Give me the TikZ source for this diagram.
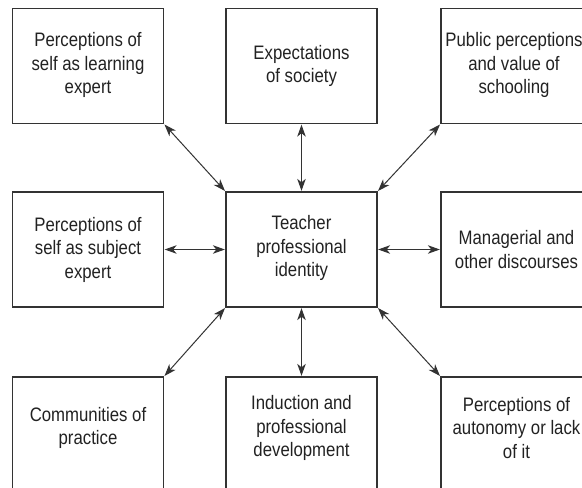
\documentclass[tikz,border=0pt]{standalone}
\usepackage{fontspec}
\setmainfont{Liberation Sans}[FakeStretch=0.86]
\usetikzlibrary{arrows.meta}
\definecolor{boxline}{HTML}{333333}
\definecolor{txtcol}{HTML}{222222}
\tikzset{
  box/.style={draw=boxline, line width=1.3pt, minimum width=151pt, minimum height=115pt, inner sep=0pt},
  txt/.style={align=center, text=txtcol, font=\fontsize{19.5pt}{23.5pt}\selectfont, inner sep=0pt},
  conn/.style={draw=boxline, line width=1pt, {Stealth[length=12pt,width=8.5pt,inset=3.5pt]}-{Stealth[length=12pt,width=8.5pt,inset=3.5pt]}, shorten <=0.5pt, shorten >=0.5pt}
}
\begin{document}
\begin{tikzpicture}[x=1pt,y=-1pt]
\useasboundingbox (0,0) rectangle (582,488);
\clip (0,0) rectangle (582,488);
\fill[white] (0,0) rectangle (582,488);
% boxes
\node[box] (tl) at (88,66) {};
\node[box] (tm) at (301.5,66) {};
\node[box] (tr) at (516.5,66) {};
\node[box] (ml) at (88,249.5) {};
\node[box] (c) at (301.5,249.5) {};
\node[box] (mr) at (516.5,249.5) {};
\node[box] (bl) at (88,434.5) {};
\node[box] (bm) at (301.5,434.5) {};
\node[box] (br) at (516.5,434.5) {};
% texts
\node[txt] (tlt) at (88,65) {Perceptions of\\self as learning\\expert};
\node[txt] (tmt) at (301.5,66) {Expectations\\of society};
\node[txt] (trt) at (514,65) {Public perceptions\\and value of\\schooling};
\node[txt] (mlt) at (88,249.5) {Perceptions of\\self as subject\\expert};
\node[txt] (ct) at (301.5,248) {Teacher\\professional\\identity};
\node[txt] (mrt) at (516.5,249.5) {Managerial and\\other discourses};
\node[txt] (blt) at (88,428) {Communities of\\practice};
\node[txt] (bmt) at (301.5,428) {Induction and\\professional\\development};
\node[txt] (brt) at (516.5,428) {Perceptions of\\autonomy or lack\\of it};
% connectors
\draw[conn] (tl.south east) -- (c.north west);
\draw[conn] (tm.south) -- (c.north);
\draw[conn] (tr.south west) -- (c.north east);
\draw[conn] (ml.east) -- (c.west);
\draw[conn] (mr.west) -- (c.east);
\draw[conn] (bl.north east) -- (c.south west);
\draw[conn] (bm.north) -- (c.south);
\draw[conn] (br.north west) -- (c.south east);
\end{tikzpicture}
\end{document}
